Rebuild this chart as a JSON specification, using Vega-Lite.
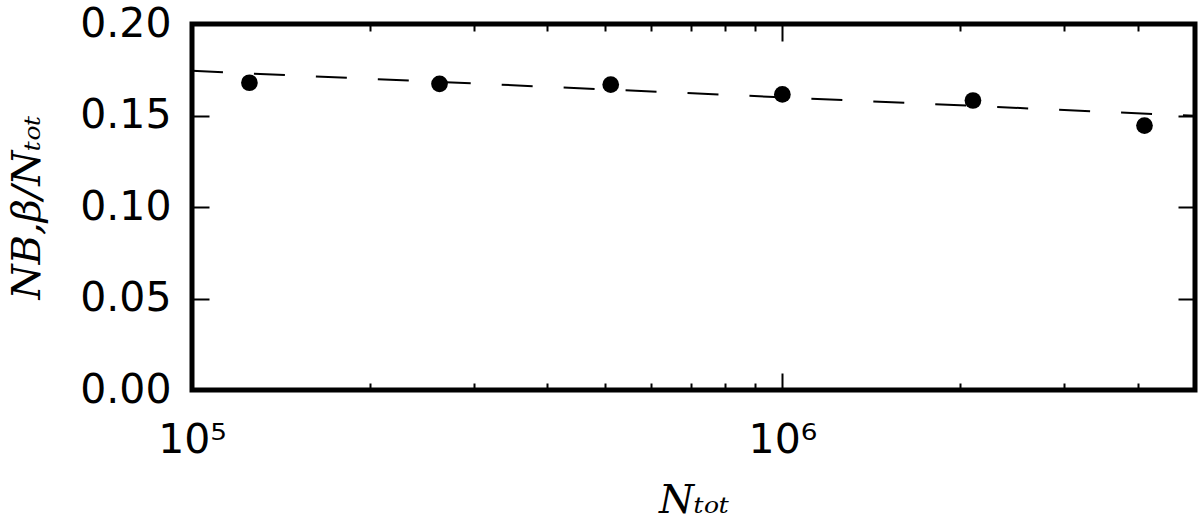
{
  "$schema": "https://vega.github.io/schema/vega-lite/v6.json",
  "autosize": {"type": "none"},
  "width": 1003,
  "height": 366,
  "padding": {"left": 192, "top": 24, "right": 5, "bottom": 140},
  "background": "white",
  "config": {
    "view": {"stroke": "black", "strokeWidth": 5},
    "axis": {"grid": false, "domain": false, "labelFlush": false, "labelOverlap": false, "tickColor": "black", "tickWidth": 2, "labelColor": "black", "titleColor": "black", "labelFont": "DejaVu Sans", "labelFontSize": 41, "titleFont": "DejaVu Serif", "titleFontStyle": "italic", "titleFontWeight": "normal", "titleFontSize": 40}
  },
  "datasets": {
    "points": [
      {"N": 125100, "ratio": 0.1679},
      {"N": 262600, "ratio": 0.1673},
      {"N": 512000, "ratio": 0.1669},
      {"N": 1000000, "ratio": 0.1615},
      {"N": 2103000, "ratio": 0.1582},
      {"N": 4106000, "ratio": 0.1445}
    ],
    "fit": [
      {"N": 100000, "ratio": 0.1744},
      {"N": 5000000, "ratio": 0.1498}
    ]
  },
  "resolve": {"axis": {"x": "independent", "y": "independent"}},
  "layer": [
    {
      "data": {"name": "fit"},
      "mark": {"type": "line", "color": "black", "strokeWidth": 2, "strokeDash": [31, 31]},
      "encoding": {
        "x": {"field": "N", "type": "quantitative", "scale": {"type": "log", "domain": [100000, 5000000], "nice": false},
          "axis": {"orient": "bottom", "values": [200000, 300000, 400000, 500000, 600000, 700000, 800000, 900000, 2000000, 3000000, 4000000], "labels": false, "tickSize": -7, "title": null}},
        "y": {"field": "ratio", "type": "quantitative", "scale": {"domain": [0, 0.2], "nice": false, "zero": false},
          "axis": {"orient": "right", "values": [0, 0.05, 0.1, 0.15, 0.2], "labels": false, "tickSize": -17, "title": null}}
      }
    },
    {
      "data": {"name": "fit"},
      "mark": {"type": "line", "opacity": 0},
      "encoding": {
        "x": {"field": "N", "type": "quantitative",
          "axis": {"orient": "top", "values": [200000, 300000, 400000, 500000, 600000, 700000, 800000, 900000, 2000000, 3000000, 4000000], "labels": false, "tickSize": -7, "title": null}},
        "y": {"field": "ratio", "type": "quantitative", "axis": null}
      }
    },
    {
      "data": {"name": "fit"},
      "mark": {"type": "line", "opacity": 0},
      "encoding": {
        "x": {"field": "N", "type": "quantitative",
          "axis": {"orient": "top", "values": [100000, 1000000], "labels": false, "tickSize": -17, "title": null}},
        "y": {"field": "ratio", "type": "quantitative", "axis": null}
      }
    },
    {
      "data": {"name": "points"},
      "mark": {"type": "circle", "color": "black", "opacity": 1, "size": 280},
      "encoding": {
        "x": {"field": "N", "type": "quantitative",
          "axis": {"orient": "bottom", "values": [100000, 1000000], "labelExpr": "datum.value < 500000 ? '10⁵' : '10⁶'", "tickSize": -17, "labelPadding": 47, "title": "Nₜₒₜ", "titlePadding": 20}},
        "y": {"field": "ratio", "type": "quantitative",
          "axis": {"orient": "left", "values": [0, 0.05, 0.1, 0.15, 0.2], "format": ".2f", "tickSize": -17, "labelPadding": 38, "title": "NB,β/Nₜₒₜ", "titlePadding": 32}}
      }
    }
  ]
}
